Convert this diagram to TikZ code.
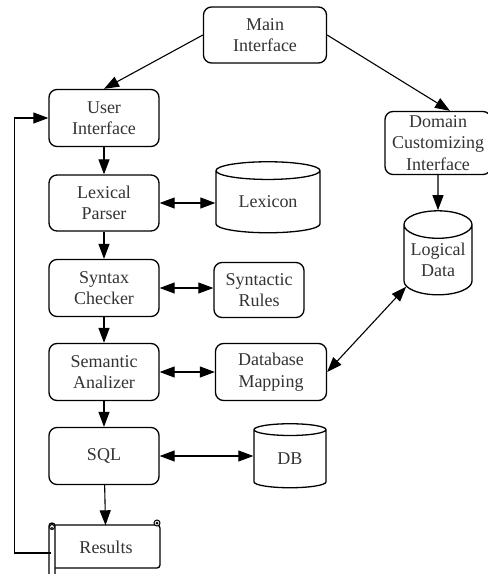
\documentclass[tikz,border=0pt]{standalone}
\usepackage{fontspec}
\setmainfont{Liberation Serif}
\usetikzlibrary{arrows.meta,calc,shapes.geometric}

\tikzset{
  box/.style={draw, line width=1.3pt, rounded corners=8pt, align=center, inner sep=0pt,
    text=black!80, font=\fontsize{18}{21.5}\selectfont},
  drum/.style={draw, line width=1.3pt, cylinder, shape border rotate=90, align=center,
    inner sep=0pt, text=black!80, font=\fontsize{18}{21.5}\selectfont},
  arr/.style={-{Triangle[length=15pt,width=11pt]}, line width=1.1pt},
  dblarr/.style={{Triangle[length=15pt,width=11pt]}-{Triangle[length=15pt,width=11pt]}, line width=1.1pt},
}

\begin{document}
\begin{tikzpicture}[x=1pt,y=-1pt]
    \useasboundingbox (0,0) rectangle (488,574);

    % Boxes of the main chain
    \node[box, minimum width=123pt, minimum height=56pt] (main) at (265,35) {Main\\Interface};
    \node[box, minimum width=110pt, minimum height=57pt] (user) at (104,118) {User\\Interface};
    \node[box, minimum width=110pt, minimum height=56pt] (lex) at (104,203) {Lexical\\Parser};
    \node[box, minimum width=110pt, minimum height=57pt] (syn) at (104,288) {Syntax\\Checker};
    \node[box, minimum width=110pt, minimum height=57pt] (sem) at (104,372) {Semantic\\Analizer};
    \node[box, minimum width=110pt, minimum height=57pt] (sql) at (104,456) {SQL};
    \node[minimum width=110pt, minimum height=43pt, inner sep=0pt, text=black!80,
      font=\fontsize{18}{21.5}\selectfont] (res) at (106,547) {Results};

    % Side boxes and stores
    \node[box, minimum width=106pt, minimum height=63pt] (dom) at (438,143) {Domain\\Customizing\\Interface};
    \node[drum, minimum width=104pt, minimum height=71pt, aspect=0.3] (lexicon) at (268,202) {Lexicon};
    \node[box, minimum width=90pt, minimum height=55pt] (rules) at (259,290) {Syntactic\\Rules};
    \node[box, minimum width=111pt, minimum height=57pt] (map) at (271,372) {Database\\Mapping};
    \node[drum, minimum width=68pt, minimum height=84pt, aspect=0.5] (logic) at (438,260) {Logical\\Data};
    \node[drum, minimum width=72pt, minimum height=64pt, aspect=0.47] (db) at (290,459) {DB};

    % Scroll outline of the results
    \draw[line width=1.3pt, rounded corners=3pt] (55,525) -- (160,525) -- (160,568) -- (55,568);
    \draw[line width=1.3pt, fill=white, rounded corners=3pt] (49,523) rectangle (55,580);
    \draw[line width=1pt, fill=white] (52,527) circle (2.5pt);
    \fill (52,528) circle (1.2pt);
    \draw[line width=1pt, fill=white] (157,523) circle (3pt);
    \fill (157,523) circle (1.5pt);

    % Connectors
    \draw[arr] (main.west) -- (user.north);
    \draw[arr] (main.east) -- ([xshift=12pt]dom.north);
    \draw[arr] (dom) -- (logic);
    \foreach \a/\b in {user/lex, lex/syn, syn/sem, sem/sql, sql/res} {
        \draw[arr] (\a) -- (\b);
    }
    \foreach \a/\b in {lex/lexicon, syn/rules, sem/map, sql/db} {
        \draw[dblarr] (\a.east) -- (\a.east -| \b.west);
    }
    \draw[dblarr] (logic.220) -- (map.east);

    % Loop back from the results
    \draw[arr] ([yshift=-6pt]res.west) -- ++(-36,0) |- (user.west);
\end{tikzpicture}
\end{document}
